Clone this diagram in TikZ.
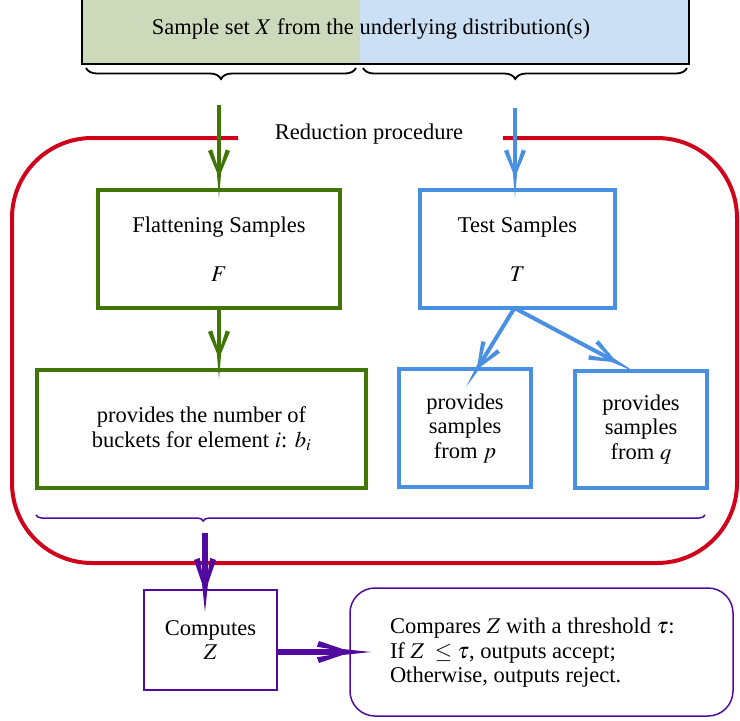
\documentclass[tikz,border=0pt]{standalone}
\usepackage{mathptmx}
\usepackage[no-math]{fontspec}
\setmainfont{Liberation Serif}
\usetikzlibrary{arrows.meta,decorations.pathreplacing}
\definecolor{cgreen}{RGB}{65,117,5}
\definecolor{cblue}{RGB}{74,144,226}
\definecolor{cred}{RGB}{208,2,27}
\definecolor{cpurple}{RGB}{80,10,160}
\definecolor{fgreen}{RGB}{204,217,186}
\definecolor{fblue}{RGB}{204,224,245}
\pgfdeclarearrow{
  name = SpikeBarb,
  parameters = {\the\pgfarrowlength,\the\pgfarrowwidth,\the\pgfarrowinset},
  setup code = {
    \pgfarrowssettipend{0pt}
    \pgfarrowssetlineend{-0.6\pgfarrowlength}
    \pgfarrowssetbackend{-\pgfarrowlength}
    \pgfarrowssetvisualbackend{-\pgfarrowlength}
    \pgfarrowsupperhullpoint{0pt}{0pt}
    \pgfarrowsupperhullpoint{-\pgfarrowlength}{0.5\pgfarrowwidth}
    \pgfarrowssavethe\pgfarrowlength
    \pgfarrowssavethe\pgfarrowwidth
    \pgfarrowssavethe\pgfarrowinset
  },
  drawing code = {
    \pgfpathmoveto{\pgfpoint{0pt}{0pt}}
    \pgfpathlineto{\pgfpoint{-0.55\pgfarrowlength}{0.55\pgfarrowinset}}
    \pgfpathlineto{\pgfpoint{-\pgfarrowlength}{0.5\pgfarrowwidth}}
    \pgfpathlineto{\pgfpoint{-\pgfarrowlength-0.4\pgfarrowinset}{0.5\pgfarrowwidth-1.05\pgfarrowinset}}
    \pgfpathlineto{\pgfpoint{-0.55\pgfarrowlength-1.9\pgfarrowinset}{0.5\pgfarrowinset}}
    \pgfpathlineto{\pgfpoint{-0.55\pgfarrowlength-1.9\pgfarrowinset}{-0.5\pgfarrowinset}}
    \pgfpathlineto{\pgfpoint{-\pgfarrowlength-0.4\pgfarrowinset}{-0.5\pgfarrowwidth+1.05\pgfarrowinset}}
    \pgfpathlineto{\pgfpoint{-\pgfarrowlength}{-0.5\pgfarrowwidth}}
    \pgfpathlineto{\pgfpoint{-0.55\pgfarrowlength}{-0.55\pgfarrowinset}}
    \pgfpathclose
    \pgfusepathqfill
  },
  defaults = {length=48pt, width=22pt, inset=4pt}
}
\tikzset{
  txt/.style={font=\fontsize{22.5}{24.5}\selectfont, align=center, inner sep=0pt, outer sep=0pt},
  gbox/.style={txt, draw=cgreen, line width=4pt},
  bbox/.style={txt, draw=cblue, line width=4pt},
  pbox/.style={txt, draw=cpurple, line width=1.5pt},
  garrow/.style={-{SpikeBarb[length=47pt,width=22pt,inset=4pt]}, draw=cgreen, line width=4pt},
  barrow/.style={-{SpikeBarb[length=47pt,width=22pt,inset=4pt]}, draw=cblue, line width=4pt},
  parrow/.style={-{SpikeBarb[length=52pt,width=22pt,inset=5.5pt]}, draw=cpurple, line width=5.5pt},
  bracestyle/.style={decorate, line width=1.8pt},
}
\begin{document}
\begin{tikzpicture}[x=1pt,y=-1pt]
\clip (0,0) rectangle (740,721);
% top bar
\fill[fgreen] (82,-5) rectangle (360,64);
\fill[fblue] (360,-5) rectangle (689,64);
\draw[line width=1.6pt] (82,-5) rectangle (689,64);
\node[txt] (src) at (371,29) {Sample set $X$ from the underlying distribution(s)};
% braces
\draw[bracestyle, decoration={brace, amplitude=11pt, mirror}] (86,68) -- (356,68);
\draw[bracestyle, decoration={brace, amplitude=11pt, mirror, aspect=0.47}] (363,68) -- (687,68);
% reduction frame
\draw[cred, line width=4pt, rounded corners=80pt] (238,138) -- (12,138) -- (12,563) -- (737,563) -- (737,138) -- (503,138);
\node[txt] (red) at (369,134) {Reduction procedure};
% boxes
\node[gbox, minimum width=242pt, minimum height=118pt] (flat) at (219,249) {Flattening Samples\\[24.5pt] $F$};
\node[gbox, minimum width=329pt, minimum height=118pt] (buck) at (201.5,429) {provides the number of\\ buckets for element $i$: $b_i$};
\node[bbox, minimum width=195pt, minimum height=118pt] (test) at (517.5,249) {Test Samples\\[24.5pt] $T$};
\node[bbox, minimum width=132pt, minimum height=118pt] (pbx) at (465,428) {provides\\ samples\\ from $p$};
\node[bbox, minimum width=132pt, minimum height=117pt] (qbx) at (641,429.5) {provides\\ samples\\ from $q$};
\node[pbox, minimum width=133pt, minimum height=100pt] (comp) at (210.5,640) {Computes\\ $Z$};
\node[draw=cpurple, line width=1.5pt, rounded corners=25pt, minimum width=383pt, minimum height=128pt, outer sep=0pt] (cmpr) at (541.5,652) {};
\node[txt, align=left, anchor=west] (cmprtxt) at (390,653) {Compares $Z$ with a threshold $\tau$:\\ If $Z\ \leq \tau$, outputs accept;\\ Otherwise, outputs reject.};
% purple brace
\draw[bracestyle, cpurple, line width=1.5pt, decoration={brace, amplitude=6pt, mirror, aspect=0.25}] (36,515) -- (705,515);
% arrows
\coordinate (gA) at (219,105);
\coordinate (bA) at (515,108);
\draw[garrow] (gA) -- ([yshift=-8pt]gA |- flat.north);
\draw[barrow] (bA) -- ([yshift=-8pt]bA |- test.north);
\draw[garrow] (flat.south) -- ([yshift=-9pt]flat.south |- buck.north);
\draw[barrow] ([xshift=-3pt]test.south) -- ([shift={(1pt,-18pt)}]pbx.north);
\draw[barrow] ([xshift=-3pt]test.south) -- ([shift={(-6pt,-1pt)}]qbx.north);
\coordinate (pA) at (205,533);
\draw[parrow] (pA) -- ([yshift=-22pt]pA |- comp.north);
\coordinate (hA) at ([yshift=-12pt]comp.east);
\draw[parrow, line width=6pt] (hA) -- ([xshift=21pt]hA -| cmpr.west);
\end{tikzpicture}
\end{document}
